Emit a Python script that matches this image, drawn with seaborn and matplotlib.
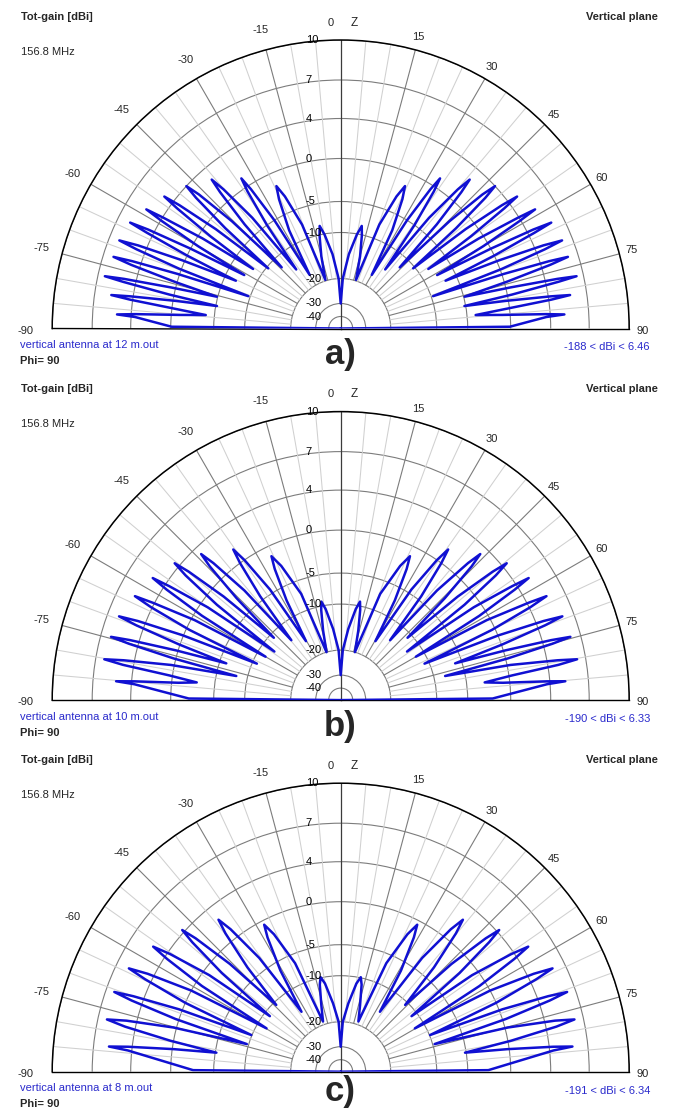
import numpy as np
import pandas as pd
import matplotlib
matplotlib.use("Agg")
import matplotlib.pyplot as plt
import seaborn as sns

sns.set_theme(style="white")
plt.rcParams["font.family"] = ["Liberation Sans", "DejaVu Sans"]

# ---- radial gain scale (dBi -> radius in pixels of the outer ring) ----
RING_DB = [-50, -40, -30, -20, -10, -5, 0, 4, 7, 10]
RING_R = [0, 12, 25, 50, 96, 127, 170, 210, 248.5, 288.5]
RING_LABELS = [10, 7, 4, 0, -5, -10, -20, -30, -40]

# ---- elevation patterns, right half (angle from zenith in degrees, gain in dBi);
#      the vertical antenna is symmetric, the left half is the mirror image ----
THETA_12M = [0, 2.4, 6.3, 9.8, 11.6, 12.8, 15.0, 17.5,
             20.4, 22.9, 24.3, 25.5, 27.7, 30.1,
             31.5, 32.8, 33.5, 34.2, 35.5, 37.0,
             38.6, 40.1, 40.9, 41.5, 42.7, 44.0,
             45.4, 46.6, 47.3, 47.9, 49.0, 50.3,
             51.5, 52.6, 53.2, 53.7, 54.7, 55.8,
             56.9, 58.0, 58.5, 59.0, 60.0, 61.0,
             62.0, 62.8, 63.3, 63.7, 64.6, 65.5,
             66.7, 67.7, 68.3, 68.8, 69.7, 70.7,
             71.5, 72.1, 72.5, 73.1, 74.3, 75.6,
             76.4, 77.1, 77.5, 77.9, 78.8, 79.7,
             80.5, 81.3, 81.7, 82.2, 83.2, 84.3,
             85.2, 86.0, 86.4, 86.8, 89.4, 90]
GAIN_12M = [-30, -20, -14.6, -10.1, -8.6, -10.1, -14.6, -19.8,
            -7.6, -3.1, -1.6, -3.1, -7.6, -17.4,
            -5.0, -0.5, 1.0, -0.5, -5.0, -14.8,
            -3.3, 1.2, 2.7, 1.2, -3.3, -12.4,
            -2.0, 2.5, 4.0, 2.5, -2.0, -10.4,
            -1.2, 3.3, 4.8, 3.3, -1.2, -8.4,
            -0.6, 3.9, 5.4, 3.9, -0.6, -7.7,
            0.0, 4.5, 6.0, 4.5, 0.0, -6.9,
            0.2, 4.7, 6.2, 4.7, 0.2, -9.7,
            0.2, 4.7, 6.2, 4.7, 0.2, -4.9,
            0.46, 4.96, 6.46, 4.96, 0.46, -5.2,
            -0.3, 4.2, 5.7, 4.2, -0.3, -4.0,
            -0.9, 3.6, 5.1, 3.6, -0.1, -188]

THETA_10M = [0, 2.4, 6.1, 9.4, 11.1, 12.2, 14.2, 16.5,
             20.4, 23.9, 25.7, 26.7, 28.5, 30.5,
             32.6, 34.5, 35.5, 36.3, 37.8, 39.5,
             41.3, 42.9, 43.7, 44.4, 45.6, 47.0,
             48.5, 49.8, 50.5, 51.2, 52.4, 53.8,
             55.1, 56.4, 57.0, 57.6, 58.7, 60.0,
             61.3, 62.6, 63.2, 63.9, 65.1, 66.5,
             67.7, 68.7, 69.3, 69.9, 71.0, 72.2,
             73.2, 74.1, 74.6, 75.1, 76.0, 77.0,
             78.3, 79.6, 80.2, 80.8, 81.8, 83.0,
             83.9, 84.8, 85.2, 85.6, 89.4, 90]
GAIN_10M = [-30, -20, -15.3, -10.8, -9.3, -10.8, -15.3, -20,
            -7.2, -2.7, -1.2, -2.7, -7.2, -16,
            -4.5, 0.0, 1.5, 0.0, -4.5, -14,
            -2.8, 1.7, 3.2, 1.7, -2.8, -11,
            -1.6, 2.9, 4.4, 2.9, -1.6, -13,
            -0.9, 3.6, 5.1, 3.6, -0.9, -12,
            -0.4, 4.1, 5.6, 4.1, -0.4, -11,
            0.1, 4.6, 6.1, 4.6, 0.1, -6.1,
            0.2, 4.7, 6.2, 4.7, 0.2, -8.2,
            0.33, 4.83, 6.33, 4.83, 0.33, -2.9,
            -0.8, 3.7, 5.2, 3.7, -2.1, -190]

THETA_8M = [0, 2.4, 6.4, 10.1, 12.0, 13.5, 16.3, 19.4,
            22.8, 25.9, 27.5, 28.6, 30.8, 33.2,
            35.6, 37.7, 38.8, 39.8, 41.8, 44.0,
            45.8, 47.4, 48.2, 48.9, 50.3, 51.9,
            53.7, 55.4, 56.3, 57.0, 58.3, 59.7,
            61.5, 63.1, 64.0, 64.7, 66.1, 67.7,
            68.9, 70.0, 70.6, 71.2, 72.3, 73.6,
            75.2, 76.6, 77.4, 78.2, 79.7, 81.3,
            82.3, 83.3, 83.8, 84.3, 89.4, 90]
GAIN_8M = [-30, -20, -15.9, -11.4, -9.9, -11.4, -15.9, -19.3,
           -6.5, -2.0, -0.5, -2.0, -6.5, -15.3,
           -3.5, 1.0, 2.5, 1.0, -3.5, -10.7,
           -1.8, 2.7, 4.2, 2.7, -1.8, -11.3,
           -0.8, 3.7, 5.2, 3.7, -0.8, -12.2,
           0.0, 4.5, 6.0, 4.5, 0.0, -9.9,
           0.34, 4.84, 6.34, 4.84, 0.34, -9.7,
           0.3, 4.8, 6.3, 4.8, 0.3, -5.2,
           -0.2, 4.3, 5.8, 4.3, -2.6, -191]

PANELS = [
    ("vertical antenna at 12 m.out", "-188 < dBi < 6.46", "a)", THETA_12M, GAIN_12M),
    ("vertical antenna at 10 m.out", "-190 < dBi < 6.33", "b)", THETA_10M, GAIN_10M),
    ("vertical antenna at 8 m.out", "-191 < dBi < 6.34", "c)", THETA_8M, GAIN_8M),
]

W, H = 675, 1110
LINE_BLUE = "#1010d2"
TEXT_BLUE = "#2a2acc"
RING_GREY = "#7c7c7c"
MINOR_GREY = "#d0d0d0"


def fwd(db):
    return np.interp(db, RING_DB, RING_R)


def inv(r):
    return np.interp(r, RING_R, RING_DB)


fig = plt.figure(figsize=(W / 100, H / 100), dpi=100)
fig.patch.set_facecolor("white")


def ftext(x, y, s, **kw):
    kw.setdefault("va", "center")
    kw.setdefault("fontsize", 8)
    fig.text(x / W, 1 - y / H, s, **kw)


PANEL_STEP = 371.6
CX, CY0, RADIUS = 340.7, 328.5, 288.5

for i, (name, rng, letter, th_half, g_half) in enumerate(PANELS):
    y0 = i * PANEL_STEP
    cy = CY0 + y0

    # square axes box; the upper half-disc sits in its middle band
    side = 2 * RADIUS
    left = CX - RADIUS
    bottom = (H - cy) - side / 4
    ax = fig.add_axes([left / W, bottom / H, side / W, side / H], projection="polar")
    ax.set_theta_zero_location("N")
    ax.set_theta_direction(-1)
    ax.set_thetamin(-90)
    ax.set_thetamax(90)
    ax.set_facecolor("white")

    # full pattern: mirror the right half
    th_half = np.asarray(th_half, float)
    g_half = np.asarray(g_half, float)
    theta = np.concatenate([-th_half[::-1], th_half[1:]])
    gain = np.concatenate([g_half[::-1], g_half[1:]])
    df = pd.DataFrame({"theta": np.deg2rad(theta), "gain": gain})

    # spokes every 5 degrees, stronger every 15, from the -20 dB ring outward
    for a in range(-85, 90, 5):
        if a == 0:
            continue
        major = a % 15 == 0
        ax.plot([np.deg2rad(a)] * 2, [-20, 10],
                color=RING_GREY if major else MINOR_GREY,
                lw=0.8 if major else 0.75, zorder=1)
    ax.plot([0, 0], [-50, 10], color="#3c3c3c", lw=0.9, zorder=2)

    sns.lineplot(data=df, x="theta", y="gain", sort=False, estimator=None,
                 ax=ax, color=LINE_BLUE, lw=1.8, zorder=5)
    ax.lines[-1].set_solid_joinstyle("round")
    ax.set_xlabel("")
    ax.set_ylabel("")

    ax.set_rscale("function", functions=(fwd, inv))
    ax.set_rlim(-50, 10)
    ax.set_xticks([])
    ax.set_yticks(RING_LABELS)
    ax.set_yticklabels([])
    ax.tick_params(length=0)
    ax.grid(False)
    ax.yaxis.grid(True, color=RING_GREY, lw=0.8)
    for key in ("polar", "start", "end"):
        ax.spines[key].set_color("black")
        ax.spines[key].set_linewidth(1.0)
    ax.spines["polar"].set_linewidth(1.1)

    # ring values along the zenith axis
    for lv in RING_LABELS:
        ax.annotate(str(lv), xy=(0, lv), xytext=(-35, 0), textcoords="offset pixels",
                    ha="left", va="center", fontsize=8, color="black", zorder=6)

    # angle labels around the rim
    for a in range(-90, 91, 15):
        if a == 0:
            continue
        phi = np.deg2rad(a)
        if a > 0:
            d = 13
        elif a == -90:
            d = 27
        else:
            d = 21
        dy = d * np.cos(phi) - (2 if abs(a) == 90 else 0)
        ax.annotate(str(a), xy=(phi, 10), xytext=(d * np.sin(phi), dy),
                    textcoords="offset pixels", ha="center", va="center",
                    fontsize=8, annotation_clip=False)
    ax.annotate("0", xy=(0, 10), xytext=(-10.5, 17.5), textcoords="offset pixels",
                ha="center", va="center", fontsize=8, annotation_clip=False)
    ax.annotate("Z", xy=(0, 10), xytext=(14, 17.5), textcoords="offset pixels",
                ha="center", va="center", fontsize=8.5, annotation_clip=False)

    # header and footer texts
    ftext(21, 17 + y0, "Tot-gain [dBi]", ha="left", fontweight="bold")
    ftext(21, 52 + y0, "156.8 MHz", ha="left")
    ftext(658, 17 + y0, "Vertical plane", ha="right", fontweight="bold")
    ftext(20, 345 + y0, name, ha="left", color=TEXT_BLUE)
    ftext(20, 361 + y0, "Phi= 90", ha="left", fontweight="bold")
    ftext(650, 347.5 + y0, rng, ha="right", color=TEXT_BLUE)
    ftext(340, min(364 + y0, H - 9.5), letter, ha="center", va="baseline",
          fontsize=25, fontweight="bold")

fig.savefig("out.png", dpi=100, facecolor="white")
